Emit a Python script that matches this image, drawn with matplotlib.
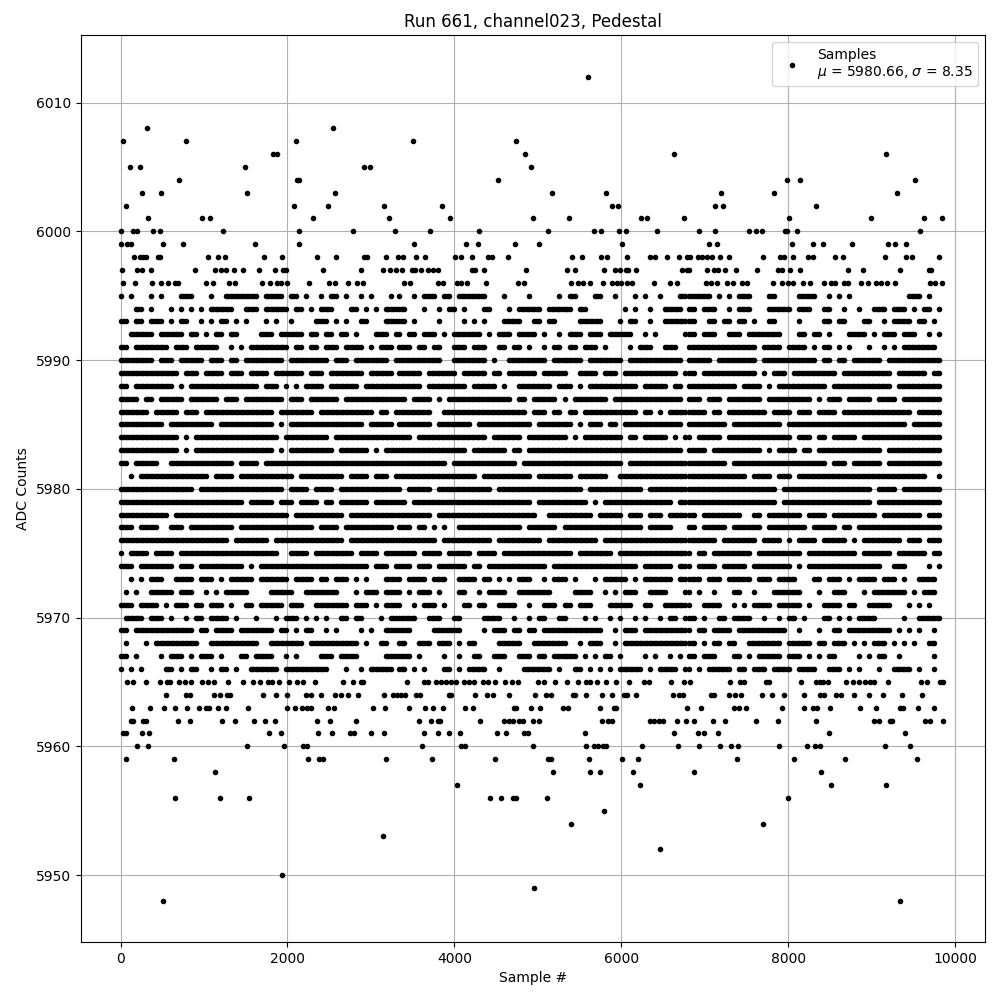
import matplotlib
matplotlib.use("Agg")
import matplotlib.pyplot as plt

title = "Run 661, channel023, Pedestal"
xlabel = "Sample #"
ylabel = "ADC Counts"
legend_label = "Samples\n$\\mu$ = 5980.66, $\\sigma$ = 8.35"

# Isolated samples, by ADC level: sample numbers
sparse = {
 6012: [5604],
 6008: [320, 2540],
 6007: [32, 780, 2108, 3504, 4740],
 6006: [1828, 1872, 4848, 6636, 9176],
 6005: [116, 236, 1496, 2912, 2984, 4920],
 6004: [704, 2112, 2136, 4524, 7988, 8144, 9524],
 6003: [260, 488, 1520, 2564, 5172, 5820, 7196, 7832, 9308],
 6002: [68, 2084, 2480, 3152, 3852, 5892, 5956, 7124, 7220, 8336],
 6001: [332, 980, 1076, 2312, 3212, 3948, 4944, 5376, 6240, 6312, 6756, 8012, 8996, 9632, 9848],
 6000: [8, 148, 200, 392, 476, 1232, 2144, 2780, 3284, 3708, 4296, 5124, 5676, 5760, 5976, 6060, 6432, 6932, 7124, 7532, 7616, 7688, 7968, 7985, 8108, 9584],
 5999: [8, 80, 128, 512, 752, 1616, 2144, 3516, 4140, 4284, 4728, 5016, 6012, 7052, 7148, 8048, 8300, 8420, 8768, 9200, 9284, 9416],
 5998: [164, 236, 272, 300, 452, 468, 1052, 1172, 1256, 1724, 1940, 2360, 2584, 2912, 2948, 3176, 3320, 3384, 3540, 3648, 4008, 4080, 4212, 4404, 4452, 4644, 5412, 5532, 5760, 5832, 6072, 6348, 6408, 6552, 6696, 6792, 6824, 6920, 6968, 7028, 7088, 7184, 7292, 7700, 7904, 7952, 8060, 8240, 8300, 8564, 8660, 9164, 9416, 9488, 9812],
 5997: [20, 200, 260, 360, 896, 1136, 1208, 1268, 1364, 1472, 1664, 1856, 1952, 1988, 2420, 2876, 3140, 3224, 3296, 3372, 3492, 3524, 3600, 3684, 3744, 3804, 4212, 4244, 4356, 4860, 5352, 5448, 5796, 5928, 5988, 6060, 6084, 6180, 6732, 6792, 6808, 7028, 7112, 7160, 7244, 7376, 7628, 7880, 7928, 8024, 8144, 8720, 8900, 9344, 9692, 9716],
 5996: [32, 176, 380, 488, 572, 656, 692, 1028, 1112, 1304, 1376, 1700, 1796, 1880, 1928, 2000, 2264, 2492, 2564, 2720, 2828, 2900, 3396, 3468, 3804, 3864, 4032, 4080, 4152, 4380, 4764, 4836, 5400, 5484, 5544, 5628, 5784, 5892, 5952, 6000, 6072, 6132, 6396, 6588, 6672, 7016, 7076, 7148, 7268, 7340, 7448, 7508, 7820, 7928, 8000, 8060, 8180, 8264, 8432, 8516, 8564, 8672, 8720, 8876, 8960, 9056, 9116, 9188, 9284, 9704, 9764, 9848],
 5965: [80, 152, 308, 476, 560, 596, 704, 776, 848, 980, 1052, 1124, 1292, 1472, 1592, 1676, 1772, 1820, 1904, 2024, 2120, 2192, 2336, 2660, 2780, 2876, 2900, 3432, 3636, 3684, 3780, 3840, 3900, 3960, 4020, 4116, 4176, 4236, 4344, 4404, 4488, 4608, 4692, 4764, 5004, 5076, 5208, 5352, 5484, 5580, 5628, 5712, 5820, 5940, 6096, 6276, 6336, 6600, 6756, 6824, 7304, 7424, 7472, 7736, 7772, 8156, 8336, 8384, 8420, 8480, 8696, 8780, 8852, 8924, 8984, 9032, 9200, 9596, 9668, 9824, 9860],
 5964: [548, 788, 836, 1124, 1196, 1280, 1316, 1712, 1868, 2000, 2228, 2288, 2408, 2564, 2636, 2720, 2840, 3152, 3260, 3308, 3360, 3408, 3540, 3588, 3936, 3960, 4248, 4392, 4464, 4656, 4968, 5100, 5160, 5424, 5448, 5580, 5772, 5892, 6036, 6072, 6180, 6624, 6696, 6744, 7076, 7112, 7292, 7364, 7436, 7688, 7808, 7952, 8188, 8384, 8432, 8576, 8636, 8792, 8972, 9140, 9368, 9608],
 5963: [140, 356, 524, 656, 800, 944, 1028, 1064, 1172, 1268, 1532, 2000, 2096, 2180, 2240, 2288, 2480, 2552, 3020, 3164, 3456, 3648, 3744, 3864, 4128, 4224, 4716, 4740, 4920, 5028, 5304, 5364, 5748, 5912, 5940, 6788, 6956, 7352, 7412, 7496, 7928, 8192, 8300, 8348, 8504, 8864, 9056, 9344, 9380, 9560, 9752],
 5962: [128, 152, 272, 308, 692, 836, 1220, 1376, 1604, 1736, 1856, 2360, 2504, 2816, 3576, 3720, 3804, 3828, 4308, 4596, 4656, 4704, 4776, 4824, 4944, 5016, 5772, 5844, 5892, 6348, 6396, 6456, 6504, 6672, 6776, 6872, 7100, 7244, 7616, 7880, 8336, 9032, 9092, 9224, 9248, 9644, 9704, 9860],
 5961: [28, 60, 260, 344, 1784, 1928, 2372, 2528, 2744, 2792, 2996, 3152, 3636, 3804, 3936, 4068, 4512, 4620, 4836, 4884, 5568, 6636, 6920, 6992, 7160, 8492, 9404],
 5960: [200, 332, 1520, 1964, 2192, 2240, 3612, 4080, 4128, 4944, 5580, 5676, 5724, 5784, 5820, 6252, 6684, 6932, 7184, 7316, 7400, 7892, 8228, 8324, 8384, 9164, 9464],
 5959: [68, 644, 2252, 2384, 2420, 3176, 3732, 4488, 5124, 5160, 5616, 6012, 6204, 7388, 8072, 8684, 9548],
 5958: [1136, 5184, 5628, 5748, 6144, 6872, 8396],
 5957: [4032, 6228, 8516, 9176],
 5956: [656, 1196, 1544, 4428, 4560, 4704, 4740, 5112, 8000],
 5955: [5796],
 5954: [5400, 7700],
 5953: [3140],
 5952: [6468],
 5950: [1940],
 5949: [4956],
 5948: [512, 9344],
}

# Dense levels: '#' marks a dot read in that cell of the picture, one cell per
# dot width, in three stretches of samples. Touching cells read as a solid run.
dense_levels = list(range(5995, 5965, -1))
stretch_starts = [0, 3340, 6812]
stretch_cells = [56, 58, 51]
cell_samples = 60

stretch_a = [
 "#.#...#.#...###...#..#######.####.##.#..#.##.#..#.#...#.",
 "...##.#...#.#.#.#.#####..###.#####.##.#.###...##.#.#.####",
 "##.##.###.#.##..#.#.##.#.#...#.#..#....###.#.#..##...####",
 "..#####.#####.##.#.##.##....###.#####.##.##.##.#...###.#.#",
 "##.#######.###.#####..#.#.########.##.##.###.####.#.###.##",
 "#######.###.#####.###.##.########.########.###.#######.####",
 "############.###.####.###.####.######.###.#######.#####.####",
 "##.########.#.##############.###.#.#.####.######.########",
 "####.##.#####.######.###.########.###.######.#################",
 "######.#####.###.##############.#######.###########.##.#.###",
 "#########.#########.###########.#.###############.#####.###",
 "############.#.#################.#########.###############.#",
 "############.#.################.#.#########.######.#.######",
 "##.#####..#############.####.##############################",
 "..#.##############.####.###########.#########.####.###.#.#.###",
 "###############.#################.####.####.###############",
 "#########################.#####.###.####.##.######.#########",
 "##########.#######################.##########.#############",
 "###.####..###.#########.###############.####.##########.#",
 "######################.#######.##############.#############",
 "#.####.####.####################..####.########.####.#####",
 "###.#######.###.#########.#.######################.###.###",
 "..#.#.###..####.###.#.#####.######.####.##.###.#.#...####.##.#",
 ".#.#..#####.###..#.#.#####....#####..#######...#.###.###",
 "###.####.#.###.##.###.#..##.#####.###..#######.###.#.###",
 ".####.###.#..#.##.####.#...#...#.###.#.#.#..##.##...#.##.###",
 "##.############.##.####.#######.##.#.##..#.#....#.#..###",
 ".#...#.#########..##########..#######.##########.#..##..#",
 "##.#....#.###.#.###.#...##.####..#.#....###.####.....###..#.",
 "#.#.#....##.#.##..#.##.#..######.#########...#..#.#####.#.#",
]
stretch_b = [
 "#..#.###.##.######...#....#.....#.##...##..#...#.#..#...##",
 "##...#..#.##.#...##...#.#####.#####.##.......#.#..#..####.#",
 "##.#....#....#.#.#...####..##.##....#####...#.##..#..#####",
 "#.##.###.#.######.#.###.####.#..#.###.###.#####..#.#.....##",
 "###.##.##..###.###..##.##.#..#.##.##.###.#....#.###..###",
 "#########..#######.#..########.######.#######.###########.##",
 "#####.######.#####.##.######.#####..####.###.###########.###",
 "#####.########.#####.#..#######.###.#.##########.#####.##.###",
 "##.####.#.#############.##.#####.#.#######.##############.#.##",
 "#######..#################.###.##.##.###########.##.#.#########",
 "#######.#######.###########.#######.#.###.##.############.####",
 "###.##############.######.########.#.########.##.#####.#.#####",
 "##############.#######.##.###############################.###",
 "##########.#############.####################.##############",
 "################.##########.#######.######..################",
 "#.#####.###########.#################.###########.##########",
 "##.########################.##########.#.##############.####",
 "#######.####################..#########.#####.###.###.######",
 "###.##.#.#..#############.######.################.#####...###",
 "########.##########.#########.##########.##################.##",
 "####.####.#####.####.##############.#######.###############",
 "###.###.######.##.############.#################.######.##.####",
 "#.####.###..####.##.#.#.###..#.###.#...#.#####.#.######.###.##",
 "#.#.###.#...##..#.####..#######....####..#.#.###..####...#",
 "#..#.###.#...##.##..####..#..###.##.###...#####..##..#####",
 "####..###..##....####..#..#.##..##...#.#..#.#..#.#..#.##.###",
 "###....######....#.###.##.##.############..#.###.#########",
 "##..###.###.#.##....#####..#######..#.###..#.###############",
 "###.#....#..#..##..###..###.##.#####.#.#.##.#....#.#..#.#",
 "##.#.#...##.#.####..#....######.#..##.#.#.#.#####.#.####.#",
]
stretch_c = [
 "#####.#.#.###...##....####..#.#.#...........###.#",
 "##.###..#.###...#####.###..##..#..#..###.###.#.##.###",
 "##..##.##.##.#..##....#....##.##...##..#.####.##.#.#",
 "##.###..###.#######...##.##.#...####.#.###.###..#.###",
 "##############.####.####.#.##.#.#...#..#.#.#######.#",
 "#####.########.###########.##.##.######.###############",
 "##.###########.#.###.#########.##########.######.##.####",
 "##########.####.#.##########.############.###########",
 "###.###.#######.#########.#.###.#####.####.###########.###",
 "####.##.########.####.###.####.##############.##########",
 "########.##########.########################.#######",
 "#.#####.#############.###.##.#####.####################",
 "####.##########.#.####.##.#############.################",
 "########.###################.###.######.###############",
 "############.####.###.##########################..###",
 "##################.##################.####.##########",
 "##################.##################.###############.###",
 "##.########..##.#######.####.#########.########.####.#####",
 "##.#####.######.########.#####.##.####################",
 "######.#######.####.#.####.#####.#.########.###.########.#",
 "#.##.########.#########.##########.######.######.########",
 "#.####.#####.########.#.###############..###....#.###.###",
 "###.###.#####.###.####...##.###.#.####.###.#..####..#",
 "#.#..#...##..#...######...#..###...#.#######.#.###",
 "#..####..#.#.####.#####.#..####.##..#####...#.#.#..#",
 "##.#..##.####..#..#.##.#...##.#.#.####.....#..#####",
 "#.##.####.##########..#...#..##.#########.#.#.#..#.#",
 "##.#.##.##..#######.#####.##.###.#.#.###.#.#.#..##...###",
 "##.###...##.#.#####.###.#.#.##....#.#.##..#......#..",
 "#.#.#####.##.###.####.####..###.#.#...#..####.#..#",
]

xs, ys = [], []
for level, samples in sparse.items():
    xs.extend(samples)
    ys.extend([level] * len(samples))
for row, level in enumerate(dense_levels):
    for start, cells, rows in zip(stretch_starts, stretch_cells,
                                  (stretch_a, stretch_b, stretch_c)):
        cut = rows[row][:cells]
        for i, ch in enumerate(cut):
            if ch == "#":
                xs.append(start + i * cell_samples)
                ys.append(level)
                if cut[i + 1:i + 2] == "#":
                    xs.append(start + i * cell_samples + cell_samples // 2)
                    ys.append(level)

fig, ax = plt.subplots(figsize=(10, 10), dpi=100)
ax.plot(xs, ys, "k.", label=legend_label)
ax.set_xlim(-480, 10359)
ax.set_ylim(5944.8, 6015.25)
ax.set_title(title)
ax.set_xlabel(xlabel)
ax.set_ylabel(ylabel)
ax.grid(True)
ax.legend(loc="upper right")
fig.subplots_adjust(left=0.0805, right=0.985, top=0.965, bottom=0.058)
fig.savefig("out.png", dpi=100)
